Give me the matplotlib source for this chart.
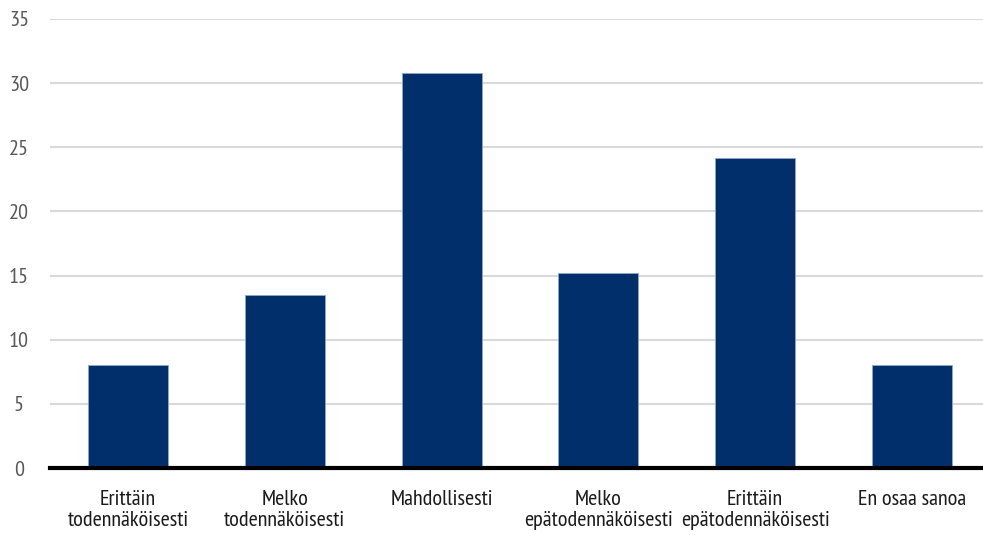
import matplotlib
matplotlib.use("Agg")
import matplotlib.pyplot as plt

categories = ["Erittäin\ntodennäköisesti", "Melko\ntodennäköisesti", "Mahdollisesti",
              "Melko\nepätodennäköisesti", "Erittäin\nepätodennäköisesti", "En osaa sanoa"]
values = [8.0, 13.5, 30.8, 15.2, 24.2, 8.0]
yticks = [0, 5, 10, 15, 20, 25, 30, 35]

plt.rcParams['font.family'] = ['PT Sans Narrow', 'DejaVu Sans']

fig = plt.figure(figsize=(9.83, 5.35), dpi=100)
ax = fig.add_axes([49.6 / 983, (535 - 468) / 535, 1 - 49.6 / 983, (468 - 19) / 535])

x = list(range(len(categories)))
ax.bar(x, values, width=0.51, color="#002F6C", edgecolor="#8FA8C8", linewidth=0.6, zorder=3)

ax.set_ylim(0, 35)
ax.set_xlim(-0.5, 5.453)
ax.set_yticks(yticks)
ax.set_yticklabels([str(t) for t in yticks], fontsize=16, color="#595959")
ax.set_xticks(x)
ax.set_xticklabels(categories, fontsize=16, color="#1a1a1a", linespacing=1.15)
ax.tick_params(axis="both", length=0)
ax.tick_params(axis="x", pad=16)
ax.tick_params(axis="y", pad=22)
for lab in ax.get_yticklabels():
    lab.set_horizontalalignment("center")

ax.grid(axis="y", color="#D9D9D9", linewidth=1.5, zorder=0)
for s in ["top", "right", "left"]:
    ax.spines[s].set_visible(False)
ax.spines["bottom"].set_color("black")
ax.spines["bottom"].set_linewidth(3)
ax.spines["bottom"].set_zorder(4)

fig.savefig("out.png", dpi=100, facecolor="white")
